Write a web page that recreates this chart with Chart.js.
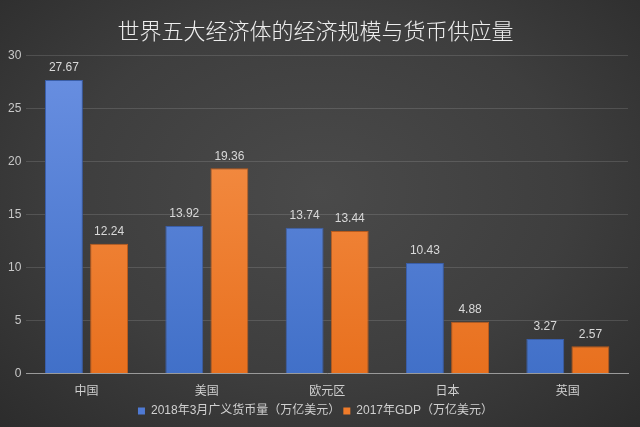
<!DOCTYPE html>
<html>
<head>
<meta charset="utf-8">
<script src="https://cdn.jsdelivr.net/npm/chart.js@4"></script>
<style>
  html, body { margin: 0; padding: 0; }
  body {
    width: 640px; height: 427px; overflow: hidden;
    background: radial-gradient(ellipse at 50% 45%, #4a4a4a 0%, #3e3e3e 55%, #2c2c2c 100%);
  }
  #wrap { width: 640px; height: 427px; }
</style>
</head>
<body>
<div id="wrap"><canvas id="c"></canvas></div>
<script>
// ─── DATA ────────────────────────────────────────────────────────────────────
const categories = ['中国', '美国', '欧元区', '日本', '英国'];
const m2Values   = [27.67, 13.92, 13.74, 10.43, 3.27];
const gdpValues  = [12.24, 19.36, 13.44, 4.88, 2.57];
const yTicks     = [0, 5, 10, 15, 20, 25, 30];

const FONT = '"Liberation Sans", "Noto Sans CJK SC", sans-serif';

function vGrad(chart, top, bottom) {
  const area = chart.chartArea;
  if (!area) return bottom;
  const g = chart.ctx.createLinearGradient(0, area.top, 0, area.bottom);
  g.addColorStop(0, top);
  g.addColorStop(1, bottom);
  return g;
}

// value labels above each bar
const valueLabels = {
  id: 'valueLabels',
  afterDatasetsDraw(chart) {
    const ctx = chart.ctx;
    ctx.save();
    ctx.font = '12px ' + FONT;
    ctx.fillStyle = '#d9d9d9';
    ctx.textAlign = 'center';
    ctx.textBaseline = 'bottom';
    chart.data.datasets.forEach((ds, i) => {
      chart.getDatasetMeta(i).data.forEach((bar, j) => {
        ctx.fillText(ds.data[j].toFixed(2), bar.x, bar.y - 6);
      });
    });
    ctx.restore();
  }
};

new Chart(document.getElementById('c'), {
  type: 'bar',
  data: {
    labels: categories,
    datasets: [
      {
        label: '2018年3月广义货币量（万亿美元）',
        data: m2Values,
        backgroundColor: (c) => vGrad(c.chart, '#6a90e2', '#4170c8'),
        borderColor: '#3a5ea8',
        borderWidth: 1
      },
      {
        label: '2017年GDP（万亿美元）',
        data: gdpValues,
        backgroundColor: (c) => vGrad(c.chart, '#f7954f', '#e8701e'),
        borderColor: '#b85a1c',
        borderWidth: 1
      }
    ]
  },
  options: {
    responsive: true,
    maintainAspectRatio: false,
    animation: false,
    datasets: { bar: { categoryPercentage: 0.75, barPercentage: 0.84 } },
    layout: { padding: { left: 3, right: 12, top: 4, bottom: 0 } },
    plugins: {
      title: {
        display: true,
        text: '世界五大经济体的经济规模与货币供应量',
        color: '#eeeeee',
        font: { family: '"Noto Sans CJK SC", sans-serif', size: 22, weight: 300 },
        padding: { top: 13, bottom: 12 }
      },
      legend: {
        position: 'bottom',
        labels: {
          color: '#d0d0d0',
          font: { family: FONT, size: 12 },
          boxWidth: 7, boxHeight: 7,
          padding: 3,
          generateLabels(chart) {
            const cols = ['#4f7ad4', '#ef7b2a'];
            return chart.data.datasets.map((ds, i) => ({
              text: ds.label, fillStyle: cols[i], strokeStyle: cols[i],
              lineWidth: 0, fontColor: '#d0d0d0', datasetIndex: i
            }));
          }
        }
      },
      tooltip: { enabled: false }
    },
    scales: {
      x: {
        grid: { display: false },
        border: { color: '#9a9a9a', width: 1 },
        ticks: { color: '#d0d0d0', font: { family: FONT, size: 12 }, padding: 3 }
      },
      y: {
        min: 0, max: 30,
        afterBuildTicks: (axis) => { axis.ticks = yTicks.map(v => ({ value: v })); },
        grid: { color: 'rgba(255,255,255,0.13)', drawTicks: false },
        border: { display: false },
        ticks: { color: '#c8c8c8', font: { family: FONT, size: 12 }, padding: 5 }
      }
    }
  },
  plugins: [valueLabels]
});
</script>
</body>
</html>
